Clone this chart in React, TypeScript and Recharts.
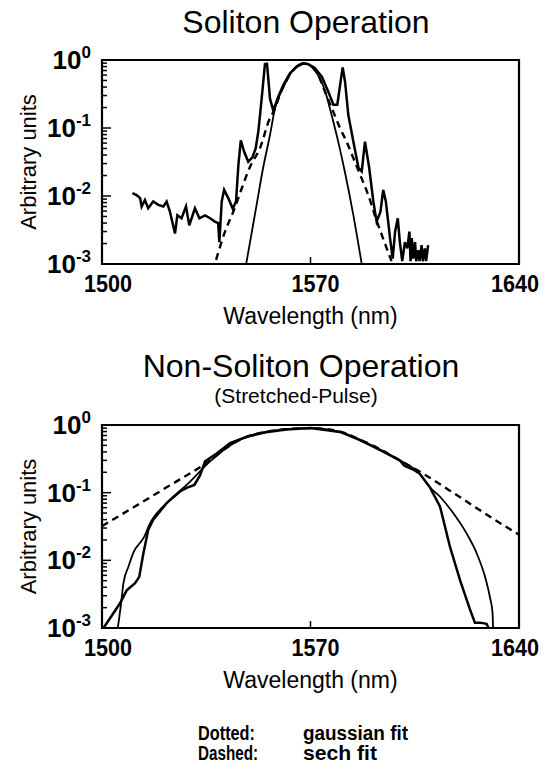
import React from "react";
import { Label, Line, LineChart, ReferenceArea, XAxis, YAxis } from "recharts";

const FONT = "'Liberation Sans', Arial, Helvetica, sans-serif";

// axis ticks
const wavelengthTicks = [1500, 1570, 1640];
const decadeTicks = [0.001, 0.01, 0.1, 1];
const decadeExponents = ["-3", "-2", "-1", "0"];

// Soliton operation, [wavelength nm, arbitrary units]
const solitonMeasured: [number, number][] = [
  [1510.2, 0.011], [1511.6, 0.0103], [1512.8, 0.0093], [1513.3, 0.007], [1514.4, 0.0087],
  [1515.5, 0.0066], [1517.2, 0.0083], [1518.9, 0.0074], [1520.6, 0.007], [1521.7, 0.0083],
  [1522.8, 0.0059], [1524.5, 0.0028], [1525.3, 0.0052], [1526.7, 0.0047], [1528.2, 0.007],
  [1529.3, 0.0037], [1531.2, 0.0066], [1532.7, 0.0047], [1534.6, 0.0052], [1536.3, 0.0047],
  [1537.9, 0.0042], [1539.0, 0.004], [1539.4, 0.0021], [1540.2, 0.0083], [1541.0, 0.0123],
  [1542.4, 0.0093], [1543.9, 0.0065], [1545.0, 0.0083], [1545.8, 0.029], [1546.6, 0.066],
  [1547.7, 0.045], [1549.1, 0.032], [1550.5, 0.037], [1551.6, 0.05], [1552.5, 0.09],
  [1553.3, 0.2], [1553.8, 0.33], [1554.7, 0.87], [1555.4, 0.88], [1556.4, 0.27],
  [1557.5, 0.18], [1559.2, 0.29], [1560.9, 0.43], [1563.1, 0.64], [1565.4, 0.8],
  [1567.6, 0.89], [1569.3, 0.87], [1571.5, 0.76], [1573.8, 0.57], [1576.0, 0.34],
  [1577.7, 0.22], [1579.0, 0.22], [1580.1, 0.48], [1580.8, 0.78], [1581.6, 0.48],
  [1582.7, 0.155], [1584.4, 0.063], [1586.1, 0.026], [1587.2, 0.023], [1588.3, 0.063],
  [1589.7, 0.026], [1591.1, 0.0083], [1592.2, 0.0042], [1593.5, 0.0059], [1594.4, 0.0123],
  [1595.3, 0.0083], [1596.7, 0.0024], [1597.6, 0.0012], [1598.4, 0.003], [1599.3, 0.0047],
  [1600.0, 0.0021], [1600.8, 0.0011], [1601.7, 0.0021], [1602.5, 0.0017], [1603.2, 0.003],
  [1603.6, 0.0011], [1604.0, 0.0024], [1604.5, 0.0012], [1605.1, 0.0021], [1605.5, 0.0011],
  [1606.2, 0.0016], [1606.6, 0.0011], [1607.3, 0.0019], [1607.7, 0.0011], [1608.4, 0.0017],
  [1608.8, 0.0011], [1609.5, 0.0019],
];
const solitonGaussian: [number, number][] = [
  [1548.4, 0.001], [1549.7, 0.0021], [1551.9, 0.0074], [1554.1, 0.026], [1556.4, 0.079],
  [1558.1, 0.195], [1560.0, 0.33], [1562.0, 0.5], [1564.0, 0.7], [1566.0, 0.85],
  [1567.5, 0.89], [1569.0, 0.87], [1571.0, 0.74], [1573.0, 0.55], [1575.0, 0.34],
  [1576.5, 0.195], [1579.3, 0.063], [1581.6, 0.022], [1584.4, 0.0052], [1587.2, 0.001],
];
const solitonSech: [number, number][] = [
  [1538.3, 0.00115], [1541.3, 0.003], [1544.1, 0.0059], [1546.9, 0.0129], [1549.7, 0.027],
  [1553.0, 0.05], [1556.4, 0.14], [1557.5, 0.17], [1560.0, 0.33], [1563.0, 0.6],
  [1565.4, 0.8], [1567.6, 0.89], [1569.3, 0.87], [1571.5, 0.74], [1575.0, 0.33],
  [1577.5, 0.18], [1579.9, 0.1], [1582.1, 0.063], [1584.4, 0.036], [1587.2, 0.018],
  [1589.4, 0.0103], [1591.6, 0.0052], [1593.9, 0.0027], [1595.6, 0.0017], [1597.2, 0.0011],
];

// Stretched-pulse operation, [wavelength nm, arbitrary units]
const stretchedMeasured: [number, number][] = [
  [1500.5, 0.001], [1506.0, 0.0023], [1508.3, 0.0036], [1511.1, 0.0046], [1512.5, 0.0057],
  [1513.9, 0.0127], [1515.5, 0.028], [1517.2, 0.04], [1521.7, 0.07], [1526.2, 0.104],
  [1528.4, 0.118], [1531.0, 0.13], [1532.9, 0.18], [1534.6, 0.29], [1538.5, 0.38],
  [1543.0, 0.54], [1548.6, 0.67], [1555.0, 0.78], [1562.0, 0.86], [1570.0, 0.9],
  [1579.9, 0.79], [1586.6, 0.6], [1593.3, 0.43], [1600.0, 0.3], [1601.5, 0.25],
  [1604.5, 0.22], [1606.7, 0.19], [1610.1, 0.12], [1613.5, 0.062], [1616.8, 0.016],
  [1620.2, 0.0051], [1623.5, 0.0019], [1625.2, 0.0012], [1626.9, 0.0012], [1629.1, 0.00115],
  [1629.8, 0.001],
];
const stretchedGaussian: [number, number][] = [
  [1505.3, 0.001], [1506.3, 0.0021], [1507.2, 0.0046], [1508.9, 0.0081], [1510.5, 0.0129],
  [1514.1, 0.022], [1516.1, 0.035], [1521.7, 0.07], [1528.4, 0.13], [1536.3, 0.29],
  [1543.0, 0.5], [1548.6, 0.67], [1555.0, 0.79], [1562.0, 0.87], [1570.0, 0.9],
  [1579.9, 0.79], [1586.6, 0.6], [1593.3, 0.43], [1600.0, 0.3], [1606.7, 0.19],
  [1610.1, 0.12], [1613.5, 0.087], [1617.9, 0.05], [1622.4, 0.025], [1625.8, 0.0127],
  [1628.6, 0.0057], [1630.2, 0.0029], [1631.1, 0.0017], [1631.3, 0.001],
];
const stretchedSech: [number, number][] = [
  [1500.0, 0.032], [1521.7, 0.12], [1536.3, 0.3], [1543.0, 0.5], [1548.6, 0.67],
  [1555.0, 0.79], [1562.0, 0.87], [1570.0, 0.9], [1579.9, 0.8], [1586.6, 0.61],
  [1593.3, 0.44], [1600.0, 0.3], [1607.9, 0.19], [1616.8, 0.107], [1635.3, 0.032],
  [1640.0, 0.024],
];

const toPoints = (pairs: [number, number][]) => pairs.map(([x, y]) => ({ x, y }));

const minorTicks = decadeTicks
  .slice(0, 3)
  .flatMap((d) => [2, 3, 4, 5, 6, 7, 8, 9].map((m) => Number((m * d).toPrecision(3))));
const yTicks = [...decadeTicks, ...minorTicks].sort((a, b) => a - b);

// label nudges so the end labels sit like the original print
const tickShift: Record<number, number> = { 1500: 6, 1570: 5, 1640: -4 };

function LogTick({ x, y, payload }: any) {
  const i = decadeTicks.indexOf(payload.value);
  const major = i >= 0;
  return (
    <g>
      <line x1={x} x2={x + (major ? 9 : 5)} y1={y} y2={y} stroke="#000" strokeWidth={1.5} />
      {major && (
        <text x={x - 11} y={y + 9} textAnchor="end" fontFamily={FONT} fontWeight="bold" fontSize={26} fill="#000">
          10
          <tspan dy={-11} fontSize={17}>
            {decadeExponents[i]}
          </tspan>
        </text>
      )}
    </g>
  );
}

function NmTick({ x, y, payload }: any) {
  return (
    <g>
      {payload.value === 1570 && <line x1={x} x2={x} y1={y} y2={y - 7} stroke="#000" strokeWidth={1.5} />}
      <text
        x={x + (tickShift[payload.value] ?? 0)}
        y={y + 28}
        textAnchor="middle"
        fontFamily={FONT}
        fontWeight="bold"
        fontSize={24}
        textLength={48}
        lengthAdjust="spacingAndGlyphs"
        fill="#000"
      >
        {payload.value}
      </text>
    </g>
  );
}

function SpectrumChart({
  measured,
  gaussian,
  sech,
  height,
}: {
  measured: [number, number][];
  gaussian: [number, number][];
  sech: [number, number][];
  height: number;
}) {
  return (
    <LineChart width={548} height={height} margin={{ top: 60, right: 29, bottom: 46, left: 12 }}>
      <XAxis
        type="number"
        dataKey="x"
        domain={[1500, 1640]}
        ticks={wavelengthTicks}
        interval={0}
        allowDataOverflow
        axisLine={false}
        tickLine={false}
        tickSize={0}
        tickMargin={0}
        height={30}
        tick={<NmTick />}
      >
        <Label
          value="Wavelength (nm)"
          position="bottom"
          offset={14}
          style={{ fontFamily: FONT, fontSize: 23, fill: "#000" }}
        />
      </XAxis>
      <YAxis
        type="number"
        scale="log"
        domain={[0.001, 1]}
        ticks={yTicks}
        interval={0}
        allowDataOverflow
        axisLine={false}
        tickLine={false}
        tickSize={0}
        tickMargin={0}
        width={90}
        tick={<LogTick />}
      >
        <Label
          value="Arbitrary units"
          angle={-90}
          position="insideLeft"
          offset={16}
          style={{ textAnchor: "middle", fontFamily: FONT, fontSize: 22, fill: "#000" }}
        />
      </YAxis>
      <ReferenceArea x1={1500} x2={1640} y1={0.001} y2={1} fill="none" stroke="#000" strokeWidth={2.2} ifOverflow="visible" />
      <Line data={toPoints(gaussian)} dataKey="y" type="monotone" stroke="#000" strokeWidth={1.8} dot={false} isAnimationActive={false} />
      <Line data={toPoints(sech)} dataKey="y" type="monotone" stroke="#000" strokeWidth={2.4} strokeDasharray="7 5" dot={false} isAnimationActive={false} />
      <Line data={toPoints(measured)} dataKey="y" type="linear" stroke="#000" strokeWidth={2.5} dot={false} isAnimationActive={false} />
    </LineChart>
  );
}

const title = (size: number, baseline: number, cx: number): React.CSSProperties => ({
  position: "absolute",
  left: cx - 250,
  width: 500,
  top: baseline - size * 0.85,
  textAlign: "center",
  fontFamily: FONT,
  fontSize: size,
  lineHeight: `${size}px`,
  color: "#000",
});

export default function App() {
  return (
    <div style={{ position: "absolute", left: 0, top: 0, width: 548, height: 769, background: "#fff", overflow: "hidden" }}>
      <div style={title(32, 33, 306)}>Soliton Operation</div>
      <div style={{ position: "absolute", left: 0, top: 0 }}>
        <SpectrumChart measured={solitonMeasured} gaussian={solitonGaussian} sech={solitonSech} height={340} />
      </div>
      <div style={title(32, 377, 301)}>Non-Soliton Operation</div>
      <div style={title(21, 403, 296)}>(Stretched-Pulse)</div>
      <div style={{ position: "absolute", left: 0, top: 365 }}>
        <SpectrumChart measured={stretchedMeasured} gaussian={stretchedGaussian} sech={stretchedSech} height={339} />
      </div>
      <svg style={{ position: "absolute", left: 0, top: 700 }} width={548} height={69}>
        <g fontFamily={FONT} fontWeight="bold" fontSize={20} fill="#000">
          <text x={198} y={40} textLength={57} lengthAdjust="spacingAndGlyphs">Dotted:</text>
          <text x={303} y={40} textLength={105} lengthAdjust="spacingAndGlyphs">gaussian fit</text>
          <text x={198} y={60} textLength={60} lengthAdjust="spacingAndGlyphs">Dashed:</text>
          <text x={303} y={60} textLength={74} lengthAdjust="spacingAndGlyphs">sech fit</text>
        </g>
      </svg>
    </div>
  );
}
